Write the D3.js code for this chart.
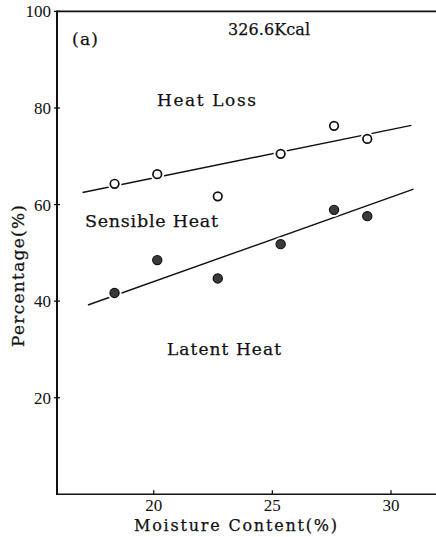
<!DOCTYPE html>
<meta charset="utf-8">
<head>
<style>
body { margin: 0; background: #fff; }
svg { display: block; }
.lbl { font-family: "DejaVu Serif", serif; fill: #111; stroke: #111; stroke-width: 0.25; }
.tick text { font-family: "Liberation Serif", serif; font-size: 17px; fill: #111; }
</style>
</head>
<body>
<svg></svg>
<script src="https://d3js.org/d3.v7.min.js"></script>
<script>
// data
var moisture = [18.35, 20.15, 22.7, 25.35, 27.6, 29.0];
var heatLoss = [64.3, 66.3, 61.7, 70.5, 76.3, 73.6];
var sensible = [41.7, 48.5, 44.7, 51.8, 58.9, 57.6];
// fitted lines (end points)
var lossFitX = [17.0, 30.86], lossFitY = [62.5, 76.4];
var sensFitX = [17.23, 30.95], sensFitY = [39.2, 63.2];
var xTicks = [20, 25, 30];
var yTicks = [20, 40, 60, 80, 100];

var width = 436, height = 537;
var x = d3.scaleLinear().domain([20, 30]).range([153.7, 391]);
var y = d3.scaleLinear().domain([0, 100]).range([494.3, 11.4]);
var left = 57;

var svg = d3.select('svg').attr('width', width).attr('height', height);

// frame lines
svg.append('line').attr('x1', left).attr('x2', width).attr('y1', y(0)).attr('y2', y(0))
  .attr('stroke', '#111').attr('stroke-width', 1.6);
svg.append('line').attr('x1', left).attr('x2', width).attr('y1', y(100)).attr('y2', y(100))
  .attr('stroke', '#111').attr('stroke-width', 1.6);
svg.append('line').attr('x1', left).attr('x2', left).attr('y1', y(100) - 1).attr('y2', y(0) + 0.8)
  .attr('stroke', '#111').attr('stroke-width', 2);

// y ticks
var yt = svg.append('g').selectAll('g').data(yTicks).enter().append('g').attr('class', 'tick');
yt.append('line').attr('x1', left - 3).attr('x2', left + 3)
  .attr('y1', function (d) { return y(d); }).attr('y2', function (d) { return y(d); })
  .attr('stroke', '#111').attr('stroke-width', 1.3);
yt.append('text').attr('x', 51).attr('y', function (d) { return y(d) + 6; })
  .attr('text-anchor', 'end').text(function (d) { return d; });

// x ticks
var xt = svg.append('g').selectAll('g').data(xTicks).enter().append('g').attr('class', 'tick');
xt.append('line').attr('x1', function (d) { return x(d); }).attr('x2', function (d) { return x(d); })
  .attr('y1', y(0)).attr('y2', y(0) - 4).attr('stroke', '#111').attr('stroke-width', 1.3);
xt.append('text').attr('x', function (d) { return x(d); }).attr('y', 511)
  .attr('text-anchor', 'middle').text(function (d) { return d; });

// fitted lines
var fit = d3.line().x(function (d) { return x(d[0]); }).y(function (d) { return y(d[1]); });
svg.append('path').attr('d', fit(d3.zip(lossFitX, lossFitY)))
  .attr('fill', 'none').attr('stroke', '#111').attr('stroke-width', 1.4);
svg.append('path').attr('d', fit(d3.zip(sensFitX, sensFitY)))
  .attr('fill', 'none').attr('stroke', '#111').attr('stroke-width', 1.4);

// markers
function markers(vals, open) {
  var g = svg.append('g');
  var pts = d3.zip(moisture, vals);
  g.selectAll('.halo').data(pts).enter().append('circle')
    .attr('cx', function (d) { return x(d[0]); }).attr('cy', function (d) { return y(d[1]); })
    .attr('r', 7).attr('fill', '#fff');
  g.selectAll('.m').data(pts).enter().append('circle')
    .attr('cx', function (d) { return x(d[0]); }).attr('cy', function (d) { return y(d[1]); })
    .attr('r', open ? 4.3 : 4.6)
    .attr('fill', open ? '#fff' : '#3a3a3a')
    .attr('stroke', '#111').attr('stroke-width', open ? 1.7 : 1.2);
}
markers(heatLoss, true);
markers(sensible, false);

// labels
function label(txt, px, py, size, len) {
  return svg.append('text').attr('class', 'lbl').attr('x', px).attr('y', py)
    .attr('font-size', size).attr('textLength', len).attr('lengthAdjust', 'spacing').text(txt);
}
label('(a)', 72, 45, 17, 26);
label('326.6Kcal', 228, 35, 16, 82);
label('Heat Loss', 157, 106, 17, 99);
label('Sensible Heat', 85, 227, 17.5, 133);
label('Latent Heat', 167, 355, 17, 114);
label('Moisture Content(%)', 134, 531, 16, 203);

svg.append('text').attr('class', 'lbl')
  .attr('transform', 'translate(24,276) rotate(-90)')
  .attr('text-anchor', 'middle').attr('font-size', 17)
  .attr('textLength', 142).attr('lengthAdjust', 'spacing')
  .text('Percentage(%)');
</script>
</body>
</html>
